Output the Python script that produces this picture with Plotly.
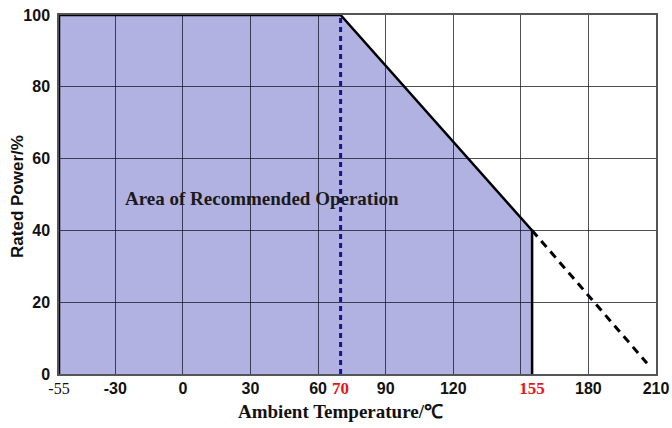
import plotly.graph_objects as go

# ---- data ----
temp_curve = [-55, -55, 70, 155, 155]          # boundary of recommended area
power_curve = [0, 100, 100, 40, 0]
temp_ext = [155, 206]                          # dashed extension
power_ext = [40, 3]
temp_knee = [70, 70]                           # dashed marker at 70 C
power_knee = [0, 100]

x_tickvals = [-55, -30, 0, 30, 60, 70, 90, 120, 155, 180, 210]
x_ticklabels = ["-55", "-30", "0", "30", "60", "70", "90", "120", "155", "180", "210"]
red_ticks = ["70", "155"]
x_grid = [-30, 0, 30, 60, 90, 120, 150, 180]
y_tickvals = [0, 20, 40, 60, 80, 100]

serif = "Liberation Serif, Times New Roman, serif"
sans = "Liberation Sans, Arial, sans-serif"

def fmt(lbl):
    if lbl in red_ticks:
        return (f"<span style='color:#e8141c;font-family:{serif};"
                f"font-size:17px'>{lbl}</span>")
    if lbl == "-55":
        return f"<span style='font-family:{serif};font-weight:normal'>{lbl}</span>"
    return lbl

fig = go.Figure()

# filled area (drawn below gridlines)
path = "M " + " L ".join(f"{x},{y}" for x, y in zip(temp_curve, power_curve)) + " Z"
fig.add_shape(type="path", path=path, xref="x", yref="y", layer="below",
              fillcolor="#b1b1e2", line=dict(width=0))

fig.add_trace(go.Scatter(x=temp_knee, y=power_knee, mode="lines",
                         line=dict(color="#15158c", width=3, dash="5px,4px"),
                         hoverinfo="skip", showlegend=False))
fig.add_trace(go.Scatter(x=temp_curve, y=power_curve, mode="lines",
                         line=dict(color="black", width=2.5),
                         hoverinfo="skip", showlegend=False))
fig.add_trace(go.Scatter(x=temp_ext, y=power_ext, mode="lines", xaxis="x2",
                         line=dict(color="black", width=3, dash="8px,6px"),
                         hoverinfo="skip", showlegend=False))

fig.add_annotation(x=35, y=49, xref="x", yref="y", showarrow=False,
                   text="<b>Area of Recommended Operation</b>",
                   font=dict(family=serif, size=19, color="#1a1a1a"))
fig.add_annotation(x=0.4707, y=-0.1058, xref="paper", yref="paper", showarrow=False,
                   xanchor="center", yanchor="middle",
                   text="<b>Ambient Temperature/℃</b>",
                   font=dict(family=serif, size=19, color="#111"))
fig.add_annotation(x=-0.0687, y=0.496, xref="paper", yref="paper", showarrow=False,
                   xanchor="center", yanchor="middle", textangle=-90,
                   text="<b>Rated Power/%</b>",
                   font=dict(family=sans, size=17, color="#111"))

fig.update_layout(
    width=672, height=428,
    margin=dict(l=59, r=16, t=15, b=54),
    paper_bgcolor="white", plot_bgcolor="white",
    xaxis=dict(range=[-55, 210], tickmode="array", tickvals=x_grid,
               showticklabels=False, showgrid=True, automargin=False,
               gridcolor="rgba(20,20,40,0.75)", gridwidth=1,
               zeroline=False, showline=True, mirror=True,
               linecolor="#555555", linewidth=1.5, ticks=""),
    xaxis2=dict(range=[-55, 210], overlaying="x", side="bottom", anchor="y",
                tickmode="array", tickvals=x_tickvals, automargin=False,
                ticktext=[fmt(t) for t in x_ticklabels], ticklabelstandoff=3,
                ticklabeloverflow="allow",
                showgrid=False, zeroline=False, showline=False, ticks="",
                tickfont=dict(family=sans, size=16, color="#111", weight="bold")),
    yaxis=dict(range=[0, 100], tickmode="array", tickvals=y_tickvals,
               showgrid=True, gridcolor="rgba(20,20,40,0.75)", gridwidth=1,
               zeroline=False, showline=True, mirror=True, automargin=False,
               linecolor="#555555", linewidth=1.5, ticks="", ticklabelstandoff=4,
               ticklabeloverflow="allow",
               tickfont=dict(family=sans, size=16, color="#111", weight="bold")),
)

# remove the page body's default 8px margin so the figure fills the window
fig.write_html("out.html",
               config={"displayModeBar": False},
               post_script="document.body.style.margin='0';"
                           "document.body.style.overflow='hidden';")
